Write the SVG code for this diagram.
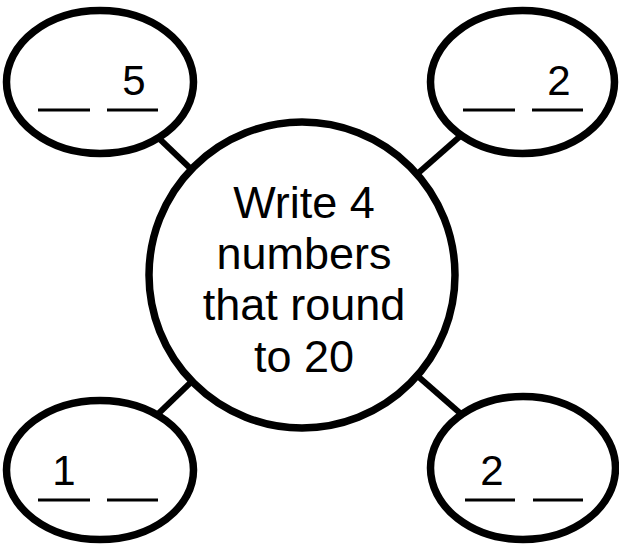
<svg xmlns="http://www.w3.org/2000/svg" width="619" height="546" viewBox="0 0 619 546">
<style>
.conn{stroke:#000;stroke-width:6;fill:none}
.shape{fill:#fff;stroke:#000;stroke-width:7.5}
.blank{stroke:#000;stroke-width:3}
.t{font-family:"Liberation Sans",Arial,sans-serif;font-size:45px;fill:#000;text-anchor:middle}
.d{font-family:"Liberation Sans",Arial,sans-serif;font-size:42px;fill:#000;text-anchor:middle}
</style>
<rect width="619" height="546" fill="#fff"/>
<g id="connectors">
<line class="conn" x1="302" y1="275" x2="100" y2="82"/>
<line class="conn" x1="302" y1="275" x2="522" y2="82"/>
<line class="conn" x1="302" y1="275" x2="100" y2="470"/>
<line class="conn" x1="302" y1="275" x2="523" y2="468"/>
</g>
<g id="center">
<circle class="shape" cx="302" cy="275" r="153"/>
<text class="t" x="304" y="218">Write 4</text>
<text class="t" x="304" y="269">numbers</text>
<text class="t" x="304" y="320">that round</text>
<text class="t" x="304" y="372">to 20</text>
</g>
<g id="top-left">
<ellipse class="shape" cx="100" cy="82" rx="93.5" ry="71.5"/>
<line class="blank" x1="38" y1="110" x2="90" y2="110"/>
<line class="blank" x1="107" y1="110" x2="158" y2="110"/>
<text class="d" x="134" y="95">5</text>
</g>
<g id="top-right">
<ellipse class="shape" cx="522.5" cy="82" rx="92" ry="71.5"/>
<line class="blank" x1="463" y1="110" x2="515" y2="110"/>
<line class="blank" x1="532" y1="110" x2="583" y2="110"/>
<text class="d" x="559" y="95">2</text>
</g>
<g id="bottom-left">
<ellipse class="shape" cx="100" cy="470" rx="93.5" ry="69.5"/>
<line class="blank" x1="38" y1="500" x2="90" y2="500"/>
<line class="blank" x1="107" y1="500" x2="158" y2="500"/>
<text class="d" x="64" y="485">1</text>
</g>
<g id="bottom-right">
<ellipse class="shape" cx="523" cy="468" rx="92.5" ry="71.5"/>
<line class="blank" x1="465" y1="500" x2="515" y2="500"/>
<line class="blank" x1="533" y1="500" x2="583" y2="500"/>
<text class="d" x="492" y="485">2</text>
</g>
</svg>
